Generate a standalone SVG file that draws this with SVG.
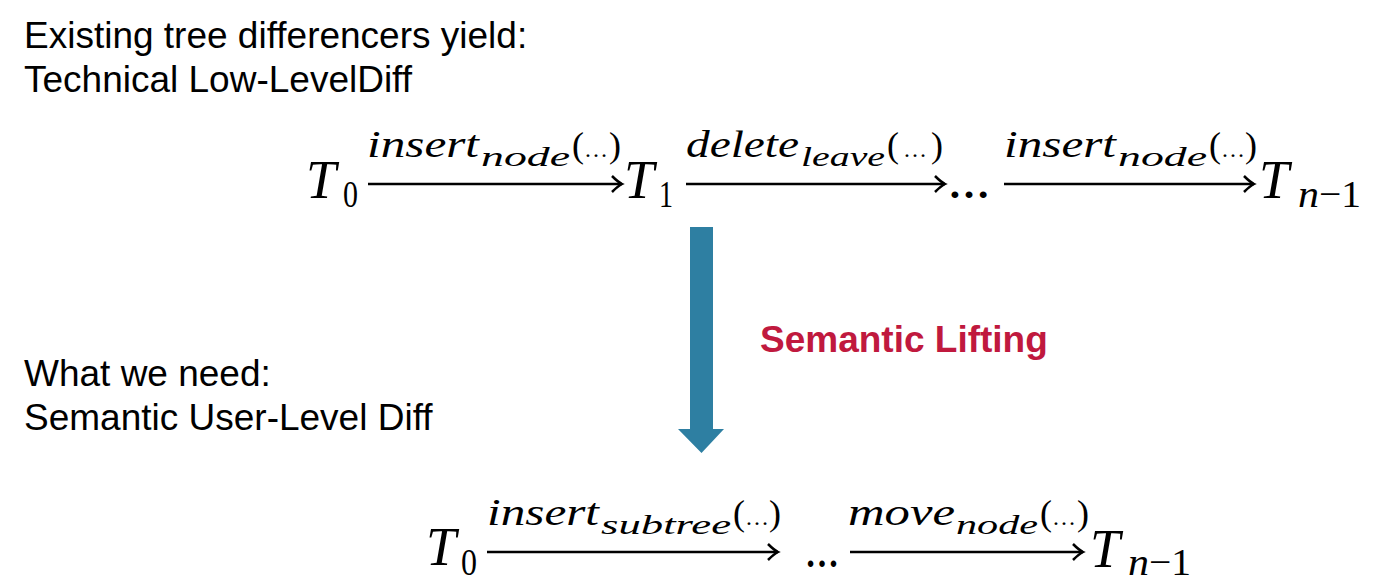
<svg xmlns="http://www.w3.org/2000/svg" width="1375" height="585" viewBox="0 0 1375 585">
<style>
.h{font-family:"Liberation Sans",Arial,sans-serif;font-size:37px;fill:#000}
.lift{font-family:"Liberation Sans",Arial,sans-serif;font-size:37px;font-weight:bold;fill:#C0193E}
.T{font-family:"Liberation Serif","Times New Roman",serif;font-style:italic;font-size:54px;fill:#000}
.ts{font-family:"Liberation Serif","Times New Roman",serif;font-size:38px;fill:#000}
.tsi{font-family:"Liberation Serif","Times New Roman",serif;font-style:italic;font-size:38px;fill:#000}
.lm{font-family:"Liberation Serif","Times New Roman",serif;font-style:italic;font-size:37px;fill:#000}
.ls{font-family:"Liberation Serif","Times New Roman",serif;font-style:italic;font-size:28px;fill:#000}
.lp{font-family:"Liberation Serif","Times New Roman",serif;font-size:36px;fill:#000}
.el{font-size:24px}
.dots{font-family:"Liberation Serif","Times New Roman",serif;font-weight:bold;font-size:40px;fill:#000}
.c{stroke:#000;stroke-width:2.5;fill:none}
</style>
<defs>
<marker id="ah" markerWidth="16" markerHeight="20" refX="13" refY="10" orient="auto" markerUnits="userSpaceOnUse">
<path d="M3,2 Q9,8 13,10 Q9,12 3,18" fill="none" stroke="#000" stroke-width="2.5"/>
</marker>
</defs>
<rect width="1375" height="585" fill="#fff"/>

<g id="heading-top">
<text class="h" x="24" y="48">Existing tree differencers yield:</text>
<text class="h" x="24" y="92">Technical Low-LevelDiff</text>
</g>
<g id="heading-bottom">
<text class="h" x="24" y="386">What we need:</text>
<text class="h" x="24" y="430">Semantic User-Level Diff</text>
</g>

<g id="connectors">
<line class="c" x1="368" y1="184" x2="622" y2="184" marker-end="url(#ah)"/>
<line class="c" x1="686" y1="184" x2="945" y2="184" marker-end="url(#ah)"/>
<line class="c" x1="1004" y1="184" x2="1254" y2="184" marker-end="url(#ah)"/>
<line class="c" x1="487" y1="552" x2="778" y2="552" marker-end="url(#ah)"/>
<line class="c" x1="850" y1="552" x2="1083" y2="552" marker-end="url(#ah)"/>
</g>

<g id="label-top-1">
<text class="lm" x="367" y="157" textLength="112" lengthAdjust="spacingAndGlyphs">insert</text>
<text class="ls" x="481" y="166" textLength="89" lengthAdjust="spacingAndGlyphs">node</text>
<text class="lp" y="157"><tspan x="572">(</tspan><tspan class="el" x="584">…</tspan><tspan x="609">)</tspan></text>
</g>
<g id="label-top-2">
<text class="lm" x="686" y="157" textLength="113" lengthAdjust="spacingAndGlyphs">delete</text>
<text class="ls" x="801" y="166" textLength="84" lengthAdjust="spacingAndGlyphs">leave</text>
<text class="lp" y="157"><tspan x="887">(</tspan><tspan class="el" x="903">…</tspan><tspan x="931">)</tspan></text>
</g>
<g id="label-top-3">
<text class="lm" x="1004" y="157" textLength="112" lengthAdjust="spacingAndGlyphs">insert</text>
<text class="ls" x="1118" y="166" textLength="89" lengthAdjust="spacingAndGlyphs">node</text>
<text class="lp" y="157"><tspan x="1209">(</tspan><tspan class="el" x="1221">…</tspan><tspan x="1245">)</tspan></text>
</g>

<g id="node-top-T0">
<text class="T" x="306" y="198">T</text>
<text class="ts" x="343" y="207" textLength="15" lengthAdjust="spacingAndGlyphs">0</text>
</g>
<g id="node-top-T1">
<text class="T" x="624" y="198">T</text>
<text class="ts" x="659" y="207" textLength="14" lengthAdjust="spacingAndGlyphs">1</text>
</g>
<g id="node-top-dots">
<text class="dots" x="948" y="198" textLength="42" lengthAdjust="spacingAndGlyphs">…</text>
</g>
<g id="node-top-Tn">
<text class="T" x="1259" y="198">T</text>
<text class="tsi" x="1298" y="207" textLength="21" lengthAdjust="spacingAndGlyphs">n</text>
<text class="ts" x="1319" y="207" textLength="42" lengthAdjust="spacingAndGlyphs">−1</text>
</g>

<g id="lifting-arrow">
<path d="M690,227 H713 V429 H724 L701.5,453 L678,429 H690 Z" fill="#2E7FA2"/>
<text class="lift" x="760" y="352">Semantic Lifting</text>
</g>

<g id="label-bottom-1">
<text class="lm" x="487" y="525" textLength="112" lengthAdjust="spacingAndGlyphs">insert</text>
<text class="ls" x="601" y="534" textLength="130" lengthAdjust="spacingAndGlyphs">subtree</text>
<text class="lp" y="525"><tspan x="733">(</tspan><tspan class="el" x="745">…</tspan><tspan x="769">)</tspan></text>
</g>
<g id="label-bottom-2">
<text class="lm" x="848" y="525" textLength="107" lengthAdjust="spacingAndGlyphs">move</text>
<text class="ls" x="956" y="534" textLength="82" lengthAdjust="spacingAndGlyphs">node</text>
<text class="lp" y="525"><tspan x="1040">(</tspan><tspan class="el" x="1052">…</tspan><tspan x="1077">)</tspan></text>
</g>

<g id="node-bottom-T0">
<text class="T" x="426" y="565">T</text>
<text class="ts" x="461" y="575" textLength="16" lengthAdjust="spacingAndGlyphs">0</text>
</g>
<g id="node-bottom-dots">
<text class="dots" x="805" y="567" textLength="34" lengthAdjust="spacingAndGlyphs">…</text>
</g>
<g id="node-bottom-Tn">
<text class="T" x="1090" y="567">T</text>
<text class="tsi" x="1128" y="575" textLength="21" lengthAdjust="spacingAndGlyphs">n</text>
<text class="ts" x="1149" y="575" textLength="42" lengthAdjust="spacingAndGlyphs">−1</text>
</g>
</svg>
